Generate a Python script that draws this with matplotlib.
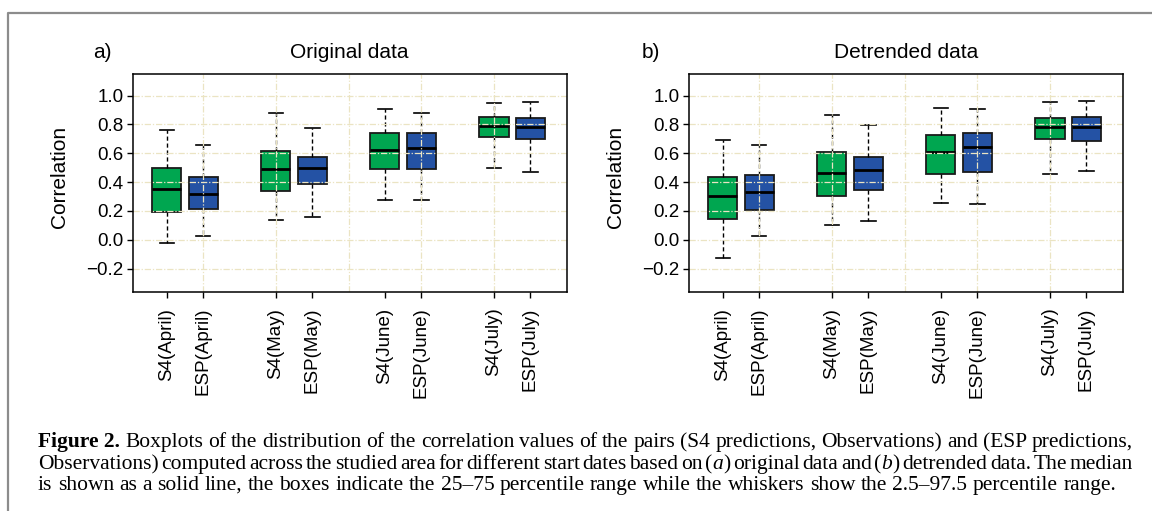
#!/usr/bin/env python3
"""
Boxplots of correlation values (S4 / ESP predictions vs observations)
for original and detrended data, with the figure caption underneath.
"""

import matplotlib
matplotlib.use('Agg')
import matplotlib.pyplot as plt
from matplotlib.lines import Line2D

plt.rcParams['font.family'] = ['Liberation Sans', 'DejaVu Sans']

# ---- data ------------------------------------------------------------------
labels = ['S4(April)', 'ESP(April)', 'S4(May)', 'ESP(May)',
          'S4(June)', 'ESP(June)', 'S4(July)', 'ESP(July)']
models = ['S4', 'ESP', 'S4', 'ESP', 'S4', 'ESP', 'S4', 'ESP']

# a) original data
orig_lo = [-0.022, 0.026, 0.135, 0.158, 0.275, 0.278, 0.497, 0.469]
orig_q1 = [0.192, 0.211, 0.338, 0.388, 0.492, 0.492, 0.714, 0.702]
orig_med = [0.354, 0.317, 0.492, 0.499, 0.621, 0.635, 0.790, 0.781]
orig_q3 = [0.499, 0.437, 0.615, 0.575, 0.739, 0.744, 0.850, 0.845]
orig_hi = [0.765, 0.661, 0.878, 0.778, 0.910, 0.880, 0.952, 0.958]

# b) detrended data
detr_lo = [-0.129, 0.028, 0.102, 0.128, 0.255, 0.245, 0.458, 0.478]
detr_q1 = [0.146, 0.206, 0.305, 0.347, 0.458, 0.472, 0.698, 0.686]
detr_med = [0.303, 0.335, 0.465, 0.485, 0.610, 0.642, 0.781, 0.783]
detr_q3 = [0.435, 0.446, 0.608, 0.575, 0.728, 0.742, 0.845, 0.850]
detr_hi = [0.693, 0.656, 0.868, 0.795, 0.917, 0.908, 0.954, 0.961]

yticks = [-0.2, 0.0, 0.2, 0.4, 0.6, 0.8, 1.0]

COLORS = {'S4': '#00a650', 'ESP': '#2452a4'}
GRID_COLOR = '#ebe4c3'
SERIF = ['Liberation Serif', 'DejaVu Serif']


def plain(text):
    return [[(w, 'normal', 'normal')] for w in text.split()]


def italic_tag(letter):
    return [[('(', 'normal', 'normal'), (letter, 'normal', 'italic'),
             (')', 'normal', 'normal')]]


caption_lines = [
    [[('Figure 2.', 'bold', 'normal')]]
    + plain('Boxplots of the distribution of the correlation values of the pairs '
            '(S4 predictions, Observations) and (ESP predictions,'),
    plain('Observations) computed across the studied area for different start '
          'dates based on') + italic_tag('a') + plain('original data and')
    + italic_tag('b') + plain('detrended data. The median'),
    plain('is shown as a solid line, the boxes indicate the 25\u201375 percentile '
          'range while the whiskers show the 2.5\u201397.5 percentile range.'),
]


def group_positions(n):
    """Pairs of boxes with an empty slot between groups: 1,2, 4,5, ..."""
    return [1 + (i // 2) * 3 + (i % 2) for i in range(n)]


def draw_panel(ax, tag, title, lo, q1, med, q3, hi):
    positions = group_positions(len(labels))
    stats = [dict(whislo=a, q1=b, med=c, q3=d, whishi=e, fliers=[])
             for a, b, c, d, e in zip(lo, q1, med, q3, hi)]
    bp = ax.bxp(stats, positions=positions, widths=0.8, capwidths=0.4,
                patch_artist=True, showfliers=False,
                boxprops=dict(edgecolor='#1a1a1a', linewidth=1.3),
                medianprops=dict(color='black', linewidth=2.0),
                whiskerprops=dict(color='black', linewidth=1.0,
                                  linestyle=(0, (3, 2))),
                capprops=dict(color='black', linewidth=1.2))
    for box, m in zip(bp['boxes'], models):
        box.set_facecolor(COLORS[m])

    # light dash-dot grid drawn over the boxes
    for y in yticks:
        ax.axhline(y, color=GRID_COLOR, lw=0.9, ls=(0, (5, 1.5, 1, 1.5)), zorder=5)
    for x in range(2, 12, 2):
        ax.axvline(x, color=GRID_COLOR, lw=0.9, ls=(0, (5, 1.5, 1, 1.5)), zorder=5)

    ax.set_xlim(0.06, 12.0)
    ax.set_ylim(-0.36, 1.15)
    ax.set_yticks(yticks)
    ax.set_yticklabels([f'{v:.1f}'.replace('-', '\u2212') for v in yticks])
    ax.set_xticks(positions)
    ax.set_xticklabels(labels, rotation=90, fontsize=13.5)
    ax.tick_params(axis='y', labelsize=13.5, length=4, width=1, pad=2.5)
    ax.tick_params(axis='x', length=4.5, width=1, pad=7)
    for sp in ax.spines.values():
        sp.set_linewidth(1.1)
        sp.set_zorder(6)

    ax.set_ylabel('Correlation', fontsize=15)
    ax.yaxis.set_label_coords(-0.146, 0.528)
    ax.text(0.5, 1.072, title, transform=ax.transAxes, ha='center',
            va='baseline', fontsize=15)
    ax.text(tag[1], 1.072, tag[0], transform=ax.transAxes, ha='left',
            va='baseline', fontsize=15)


def measure(fig, renderer, s, size, weight='normal', style='normal'):
    t = fig.text(0, 0, s, fontsize=size, weight=weight, style=style, family=SERIF)
    w = t.get_window_extent(renderer).width
    t.remove()
    return w


def draw_caption(fig, lines, x0, x1, last_end, baselines):
    """Place caption words one by one so that full lines are justified.

    The font size is chosen so that the last (ragged) line ends at last_end.
    """
    W, H = fig.bbox.width, fig.bbox.height
    renderer = fig.canvas.get_renderer()

    def natural_width(words, size):
        sp = measure(fig, renderer, 'a a', size) - measure(fig, renderer, 'aa', size)
        body = sum(measure(fig, renderer, s, size, wt, st)
                   for word in words for s, wt, st in word)
        return body + sp * (len(words) - 1)

    size = 12.0 * (last_end - x0) / natural_width(lines[-1], 12.0)
    space = measure(fig, renderer, 'a a', size) - measure(fig, renderer, 'aa', size)

    for i, (words, yb) in enumerate(zip(lines, baselines)):
        items = []
        for word in words:
            segs = []
            for s, weight, style in word:
                t = fig.text(0, 1 - yb / H, s, fontsize=size, weight=weight,
                             style=style, va='baseline', ha='left', family=SERIF)
                segs.append((t, t.get_window_extent(renderer).width))
            items.append(segs)
        total = sum(w for segs in items for _, w in segs)
        last = i == len(lines) - 1
        gap = space if last else (x1 - x0 - total) / (len(items) - 1)
        x = x0
        for segs in items:
            for t, w in segs:
                t.set_x(x / W)
                x += w
            x += gap


def main():
    fig = plt.figure(figsize=(11.52, 5.11), dpi=100)
    W, H = 1152, 511

    def axes_rect(left, top, width=434, height=217.7):
        return [left / W, 1 - (top + height) / H, width / W, height / H]

    ax_a = fig.add_axes(axes_rect(132.7, 74))
    ax_b = fig.add_axes(axes_rect(688.7, 74))
    draw_panel(ax_a, ('a)', -0.092), 'Original data',
               orig_lo, orig_q1, orig_med, orig_q3, orig_hi)
    draw_panel(ax_b, ('b)', -0.108), 'Detrended data',
               detr_lo, detr_q1, detr_med, detr_q3, detr_hi)

    # grey frame round the figure (top and left edges)
    fx, fy = 8.3 / W, 1 - 13.3 / H
    fig.add_artist(Line2D([fx, fx, 1.0], [0.0, fy, fy], transform=fig.transFigure,
                          color='#8c8c8c', lw=1.6))

    draw_caption(fig, caption_lines, 38, 1133, 1114, [447, 469, 490])

    fig.savefig('out.png', dpi=100)
    plt.close(fig)


if __name__ == '__main__':
    main()
